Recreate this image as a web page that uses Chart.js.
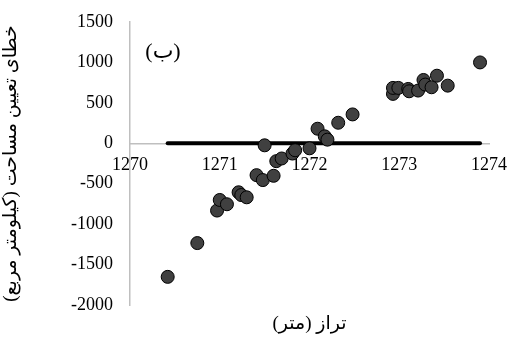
<!DOCTYPE html>
<html>
<head>
<meta charset="utf-8">
<script src="https://cdn.jsdelivr.net/npm/chart.js@4"></script>
<style>
  html, body { margin: 0; padding: 0; background: #fff; }
  #wrap { width: 510px; height: 337px; }
</style>
</head>
<body>
<div id="wrap"><canvas id="grafico"></canvas></div>
<script>
// تراز (متر) و خطای تعیین مساحت
const tarazX = [1270.42, 1270.75, 1270.97, 1271.00, 1271.08, 1271.21, 1271.24, 1271.30,
    1271.41, 1271.48, 1271.50, 1271.60, 1271.63, 1271.69, 1271.81, 1271.84, 1272.00,
    1272.09, 1272.17, 1272.20, 1272.32, 1272.48, 1272.93, 1272.93, 1272.99, 1273.10,
    1273.11, 1273.21, 1273.27, 1273.29, 1273.36, 1273.42, 1273.54, 1273.90];
const khataY = [-1652, -1234, -832, -701, -754, -606, -640, -668,
    -394, -455, -25, -402, -221, -188, -127, -86, -62,
    180, 86, 45, 254, 357, 611, 685, 685, 672,
    643, 652, 783, 726, 693, 836, 713, 1000];
// خط صفر
const safrX = [1270.42, 1273.90];
const safrY = [0, 0];
const xTicks = [1270, 1271, 1272, 1273, 1274];
const yTicks = [-2000, -1500, -1000, -500, 0, 500, 1000, 1500];

const fonte = "'Liberation Serif', 'DejaVu Serif', serif";
const fonteFa = "'Liberation Serif', 'DejaVu Sans', sans-serif";

const textos = {
    id: 'textos',
    afterDraw(chart) {
        const ctx = chart.ctx;
        const area = chart.chartArea;
        ctx.save();
        ctx.fillStyle = '#000';
        ctx.textBaseline = 'middle';
        ctx.textAlign = 'center';
        ctx.font = "22px " + fonteFa;
        ctx.fillText('(ب)', 163, 52);
        ctx.font = "19px " + fonteFa;
        ctx.fillText('تراز (متر)', (area.left + area.right) / 2, 324);
        ctx.restore();
    }
};

new Chart(document.getElementById('grafico'), {
    type: 'scatter',
    data: {
        datasets: [{
            data: tarazX.map((x, i) => ({x: x, y: khataY[i]})),
            backgroundColor: '#404040',
            borderColor: '#000',
            borderWidth: 1,
            pointRadius: 6.5,
            pointHoverRadius: 6.5
        }, {
            type: 'line',
            data: safrX.map((x, i) => ({x: x, y: safrY[i]})),
            borderColor: '#000',
            borderWidth: 4,
            borderCapStyle: 'round',
            pointRadius: 0,
            fill: false
        }]
    },
    options: {
        responsive: true,
        maintainAspectRatio: false,
        animation: false,
        layout: { padding: { top: 22, right: 21, bottom: 32, left: 0 } },
        plugins: {
            legend: { display: false },
            tooltip: { enabled: false }
        },
        scales: {
            x: {
                type: 'linear',
                position: { y: 0 },
                min: 1270, max: 1274,
                afterBuildTicks: s => { s.ticks = xTicks.map(v => ({value: v})); },
                afterFit: s => { s.paddingLeft = 0; s.paddingRight = 0; },
                grid: { display: false, drawTicks: false },
                border: { color: '#bfbfbf', width: 1.5 },
                ticks: { color: '#000', padding: 11, maxRotation: 0, callback: v => String(v),
                    font: { family: fonte, size: 18 } }
            },
            y: {
                min: -2000, max: 1500,
                afterBuildTicks: s => { s.ticks = yTicks.map(v => ({value: v})); },
                afterFit: s => { s.width = 130; s.paddingTop = 0; s.paddingBottom = 0; },
                grid: { display: false, drawTicks: false },
                border: { color: '#bfbfbf', width: 1.5 },
                ticks: { color: '#000', padding: 17, callback: v => String(v),
                    font: { family: fonte, size: 18 } },
                title: {
                    display: true,
                    text: 'خطای تعیین مساحت (کیلومتر مربع)',
                    color: '#000',
                    padding: 0,
                    font: { family: fonteFa, size: 19 }
                }
            }
        }
    },
    plugins: [textos]
});
</script>
</body>
</html>
